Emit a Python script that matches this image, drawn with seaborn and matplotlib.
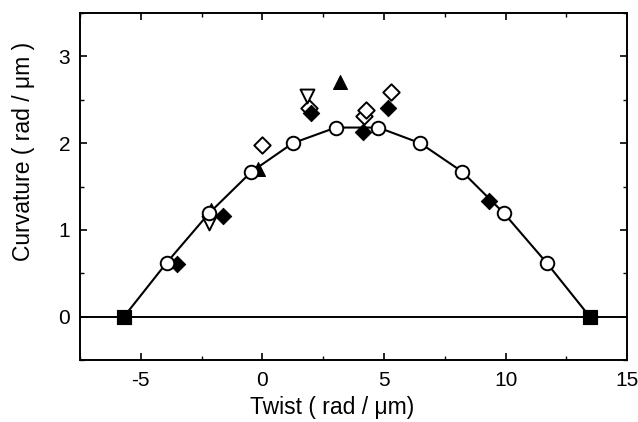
import matplotlib
matplotlib.use("Agg")
import numpy as np
import pandas as pd
import matplotlib.pyplot as plt
import matplotlib.ticker as mticker
import seaborn as sns

# ── Data ─────────────────────────────────────────────────────────────────────
curve_x = [-5.69, -3.94, -2.20, -0.45, 1.25, 3.02, 4.77, 6.49, 8.22, 9.94, 11.69, 13.46]
curve_y = [0.00, 0.62, 1.19, 1.67, 2.00, 2.18, 2.18, 2.00, 1.67, 1.19, 0.62, 0.00]

end_x = [-5.69, 13.46]
end_y = [0.0, 0.0]

fdiam_x = [-3.50, -1.60, 1.98, 4.12, 5.18, 9.30]
fdiam_y = [0.61, 1.16, 2.35, 2.13, 2.40, 1.33]

odiam_x = [0.00, 1.91, 4.16, 4.28, 5.29]
odiam_y = [1.98, 2.41, 2.31, 2.38, 2.59]

ftri_x = [-2.12, -0.20, 3.18]
ftri_y = [1.23, 1.70, 2.70]

otri_x = [-2.18, 1.85]
otri_y = [1.08, 2.54]

# ── Style ────────────────────────────────────────────────────────────────────
sns.set_theme(style="white")
plt.rcParams["font.family"] = ["Liberation Sans", "DejaVu Sans"]

fig = plt.figure(figsize=(6.38, 4.22), dpi=100)
ax = fig.add_axes([0.1254, 0.147, 0.8576, 0.822])

ax.axhline(0, color="black", lw=1.4, zorder=1)

sns.lineplot(x=curve_x, y=curve_y, ax=ax, color="black", lw=1.5,
             sort=False, zorder=2)

sns.scatterplot(x=odiam_x, y=odiam_y, ax=ax, marker="D", s=70,
                facecolor="white", edgecolor="black", linewidth=1.4, zorder=3)
sns.scatterplot(x=fdiam_x, y=fdiam_y, ax=ax, marker="D", s=70,
                color="black", edgecolor="black", zorder=4)
sns.scatterplot(x=ftri_x, y=ftri_y, ax=ax, marker="^", s=100,
                color="black", edgecolor="black", zorder=3)
sns.scatterplot(x=otri_x, y=otri_y, ax=ax, marker="v", s=100,
                facecolor="white", edgecolor="black", linewidth=1.4, zorder=3)
sns.scatterplot(x=curve_x[1:-1], y=curve_y[1:-1], ax=ax, marker="o", s=95,
                facecolor="white", edgecolor="black", linewidth=1.4, zorder=5)
sns.scatterplot(x=end_x, y=end_y, ax=ax, marker="s", s=110,
                color="black", edgecolor="black", zorder=5)

ax.set_xlim(-7.5, 15)
ax.set_ylim(-0.5, 3.5)
ax.xaxis.set_major_locator(mticker.MultipleLocator(5))
ax.xaxis.set_minor_locator(mticker.MultipleLocator(2.5))
ax.yaxis.set_major_locator(mticker.MultipleLocator(1))
ax.yaxis.set_minor_locator(mticker.MultipleLocator(0.5))
ax.xaxis.set_major_formatter(mticker.FuncFormatter(lambda v, _: f"{v:g}"))
ax.yaxis.set_major_formatter(mticker.FuncFormatter(lambda v, _: f"{v:g}"))

ax.tick_params(which="both", direction="in", top=True, right=True,
               bottom=True, left=True, colors="black", labelsize=15)
ax.tick_params(which="major", length=5, width=1.2)
ax.tick_params(which="minor", length=3, width=1.0)
ax.tick_params(axis="x", pad=8)
ax.tick_params(axis="y", pad=7)
for sp in ax.spines.values():
    sp.set_color("black")
    sp.set_linewidth(1.4)

ax.set_xlabel("Twist ( rad / \u03bcm)", fontsize=16.5, color="black")
ax.set_ylabel("Curvature ( rad / \u03bcm )", fontsize=16.5, color="black")
ax.xaxis.set_label_coords(0.46, -0.105)
ax.yaxis.set_label_coords(-0.082, 0.6)

fig.savefig("out.png", dpi=100)
